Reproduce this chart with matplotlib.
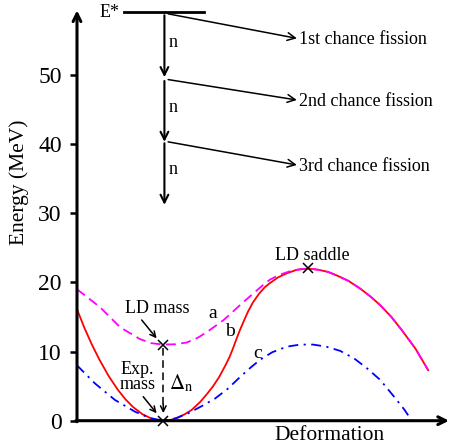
import numpy as np
import matplotlib
matplotlib.use("Agg")
import matplotlib.pyplot as plt

plt.rcParams['font.family'] = ['Liberation Serif', 'DejaVu Serif']
plt.rcParams['mathtext.fontset'] = 'stix'

# potential energy curves vs deformation (arb. units), energies in MeV
# b: solid red
x_b = [0, 0.2, 0.4, 0.6, 0.85, 1.1, 1.3, 1.5, 1.75, 2.0, 2.15, 2.32, 2.5, 2.7, 2.9,
       3.08, 3.31, 3.5, 3.66, 3.82, 3.98, 4.1, 4.19, 4.3, 4.38, 4.5, 4.6, 4.73, 4.9,
       5.05, 5.19, 5.4, 5.64, 5.9, 6.22, 6.5, 6.75, 6.98, 7.3, 7.61, 7.9, 8.15, 8.45,
       8.73, 9.1, 9.44]
E_b = [16.1, 13.4, 11.0, 8.85, 6.46, 4.45, 3.11, 2.01, 0.97, 0.31, 0.09, 0.0, 0.09,
       0.4, 0.95, 1.55, 2.7, 3.9, 5.0, 6.3, 7.9, 9.2, 10.4, 12.0, 13.1, 14.6, 15.8,
       17.1, 18.4, 19.3, 19.9, 20.7, 21.3, 21.8, 22.0, 21.8, 21.5, 21.0, 20.2, 19.1,
       17.9, 16.7, 15.0, 13.1, 10.4, 7.3]

# a: dashed magenta
x_a = [0, 0.62, 1.16, 1.69, 2.0, 2.32, 2.65, 2.95, 3.25, 3.49, 3.93, 4.16, 4.38,
       4.74, 5.0, 5.19, 5.45, 5.73, 6.0, 6.22, 6.5, 6.75, 6.98, 7.3, 7.61, 7.9, 8.15,
       8.45, 8.73, 9.1, 9.44]
E_a = [19.0, 16.4, 13.5, 11.8, 11.2, 11.0, 11.05, 11.3, 12.0, 12.8, 14.5, 15.6, 16.7,
       18.4, 19.6, 20.4, 21.1, 21.6, 21.9, 22.0, 21.8, 21.5, 21.0, 20.2, 19.1, 17.9,
       16.7, 15.0, 13.1, 10.4, 7.3]

# c: dash-dot blue
x_c = [0, 0.48, 1.02, 1.56, 1.95, 2.32, 2.65, 2.99, 3.35, 3.71, 4.05, 4.38, 4.65,
       4.92, 5.25, 5.64, 6.0, 6.35, 6.7, 7.07, 7.45, 7.79, 8.15, 8.55, 8.8, 9.0]
E_c = [8.0, 5.4, 3.0, 1.3, 0.4, 0.0, 0.35, 1.07, 2.1, 3.2, 4.6, 6.3, 7.6, 8.8, 9.9,
       10.7, 11.0, 11.0, 10.7, 10.1, 9.0, 7.6, 5.9, 3.3, 1.6, 0.0]

# excitation energy and neutron emission steps
E_star = 59.06
steps = [(58.6, 49.65), (49.1, 40.3), (40.1, 31.2)]
chance_labels = ["1st chance fission", "2nd chance fission", "3rd chance fission"]
chance_y = [55.26, 46.35, 36.96]

ld_mass = 11.0
exp_mass = 0.0
x_min = 2.32
saddle = (6.22, 22.0)

fig = plt.figure(figsize=(4.49, 4.48), dpi=100)
ax = fig.add_axes([77/449, 27.3/448, 372/449, 420.7/448])
ax.set_xlim(0, 10.0)
ax.set_ylim(0, 60.8)
for s in ax.spines.values():
    s.set_visible(False)
ax.set_xticks([])
ax.set_yticks([0, 10, 20, 30, 40, 50])
ax.tick_params(axis='y', direction='out', length=5, width=1.8, pad=6, labelsize=17)

# axes drawn as arrows
ax.annotate("", xy=(0, 59.3), xytext=(0, -0.15), annotation_clip=False,
            arrowprops=dict(arrowstyle='->', lw=2.2, color='k', shrinkA=0, shrinkB=0,
                            mutation_scale=14))
ax.annotate("", xy=(10.0, 0), xytext=(-0.03, 0), annotation_clip=False,
            arrowprops=dict(arrowstyle='->', lw=2.2, color='k', shrinkA=0, shrinkB=0,
                            mutation_scale=14))

ax.plot(x_b, E_b, color='red', lw=1.3, clip_on=False)
ax.plot(x_a, E_a, color='magenta', lw=1.3, dashes=(5.5, 3), clip_on=False)
ax.plot(x_c, E_c, color='blue', lw=1.3, dashes=(5.5, 3, 1.2, 3), clip_on=False)

# markers
ax.plot([x_min, x_min, saddle[0]], [ld_mass, exp_mass, saddle[1]], 'x', color='k',
        ms=7, mew=1.1, clip_on=False)
ax.plot([x_min, x_min], [ld_mass - 0.5, 2.2], color='k', lw=1.1, dashes=(5, 3))
ax.annotate("", xy=(x_min, 1.1), xytext=(x_min, 2.4),
            arrowprops=dict(arrowstyle='->', lw=1.1, color='k', shrinkA=0, shrinkB=0))

ax.text(2.16, 16.2, "LD mass", fontsize=13, ha='center', va='center')
ax.annotate("", xy=(2.14, 11.9), xytext=(1.74, 14.55),
            arrowprops=dict(arrowstyle='->', lw=1.1, color='k', shrinkA=0, shrinkB=0))
ax.text(1.63, 6.3, "Exp.\nmass", fontsize=13, ha='center', va='center',
        multialignment='center', linespacing=0.85)
ax.annotate("", xy=(2.14, 1.07), xytext=(1.78, 3.47),
            arrowprops=dict(arrowstyle='->', lw=1.1, color='k', shrinkA=0, shrinkB=0))
ax.text(2.47, 5.4, r"$\Delta_{\mathrm{n}}$", fontsize=15, ha='left', va='center')

ax.text(3.65, 15.5, "a", fontsize=14, ha='center', va='center')
ax.text(4.11, 12.9, "b", fontsize=14, ha='center', va='center')
ax.text(4.85, 9.7, "c", fontsize=14, ha='center', va='center')
ax.text(6.33, 23.9, "LD saddle", fontsize=13, ha='center', va='center')

# level scheme
ax.plot([1.26, 3.41], [E_star, E_star], color='k', lw=2.0, clip_on=False)
ax.text(1.15, E_star - 0.1, "E*", fontsize=13, ha='right', va='center')
for (top, bot), lab, yl in zip(steps, chance_labels, chance_y):
    ax.annotate("", xy=(2.35, bot), xytext=(2.35, top),
                arrowprops=dict(arrowstyle='->', lw=1.5, color='k', shrinkA=0, shrinkB=0,
                                mutation_scale=14))
    ax.text(2.47, (top + bot) / 2 + 0.6, "n", fontsize=13, ha='left', va='center')
    ax.annotate("", xy=(5.91, yl), xytext=(2.45, top + 0.2),
                arrowprops=dict(arrowstyle='->', lw=1.1, color='k', shrinkA=0, shrinkB=0,
                                mutation_scale=14))
    ax.text(5.97, yl - 0.2, lab, fontsize=13, ha='left', va='center')

ax.text(0.68, -0.035, "Deformation", transform=ax.transAxes, fontsize=15.5,
        ha='center', va='center')
ax.text(-0.155, 34.4, "Energy (MeV)", fontsize=15.5, rotation=90, ha='center', va='center',
        transform=ax.get_yaxis_transform())

fig.savefig("out.png", dpi=100)
